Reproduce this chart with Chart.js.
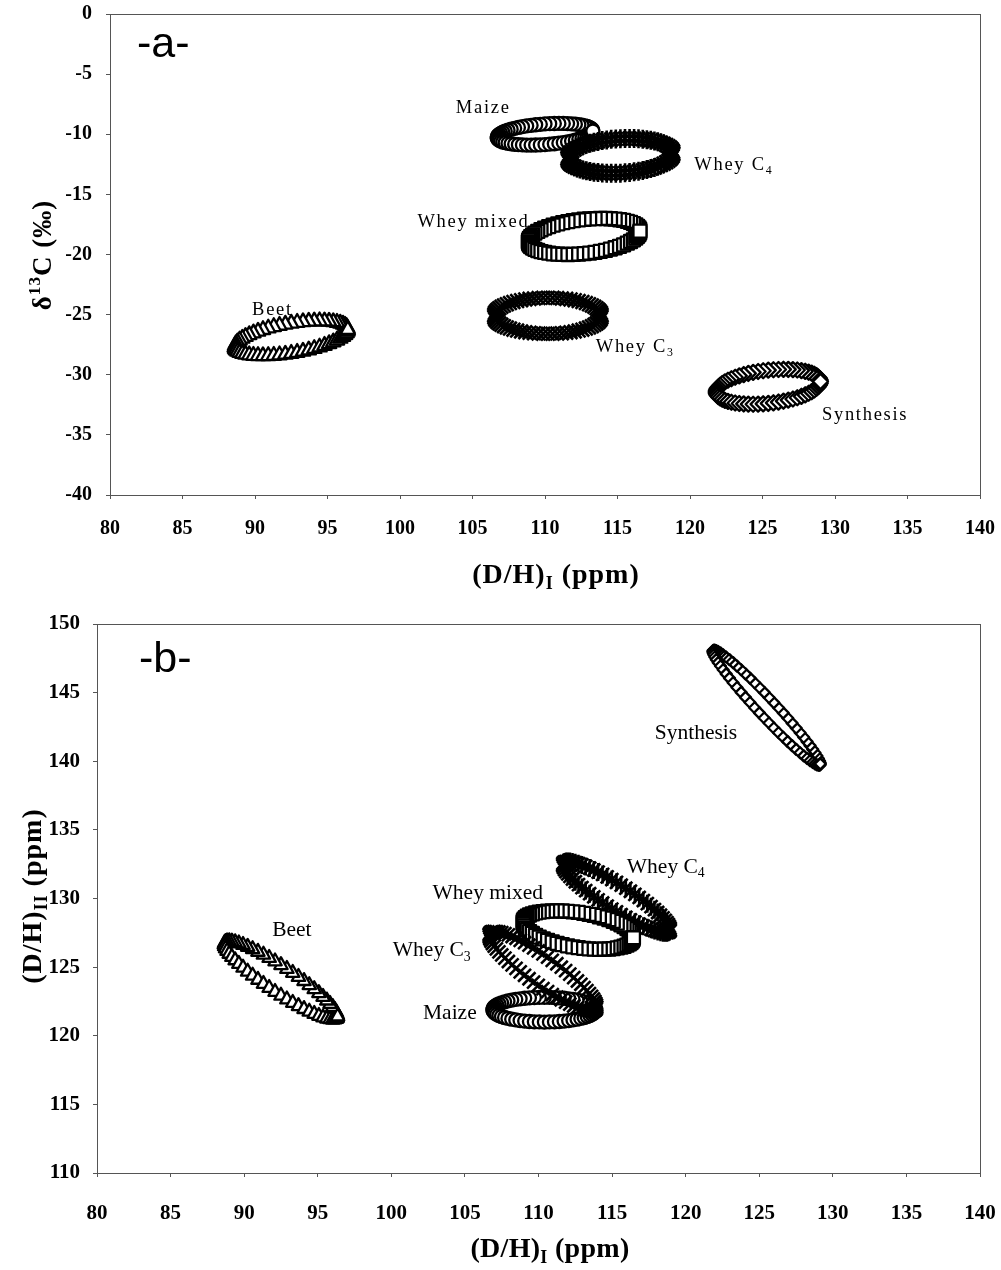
<!DOCTYPE html>
<html>
<head>
<meta charset="utf-8">
<script src="https://cdn.jsdelivr.net/npm/chart.js@4.4.1/dist/chart.umd.min.js"></script>
<style>
  body { margin: 0; background: #fff; }
  canvas { display: block; }
</style>
</head>
<body>
<canvas id="chartA" width="1001" height="610"></canvas>
<canvas id="chartB" width="1001" height="660"></canvas>
<script>
// groups, same order in both panels
const groups = ["Maize", "Whey C4", "Whey mixed", "Beet", "Whey C3", "Synthesis"];

const xTicks = [80, 85, 90, 95, 100, 105, 110, 115, 120, 125, 130, 135, 140];
const yTicksA = [-40, -35, -30, -25, -20, -15, -10, -5, 0];
const yTicksB = [110, 115, 120, 125, 130, 135, 140, 145, 150];

// panel a : (D/H)I vs d13C, mean / spread / correlation of each ellipse
const dhIMeanA = [110.0, 115.2, 112.7, 92.5, 110.2, 125.4];
const d13CMeanA = [-10.0, -11.8, -18.5, -26.9, -25.1, -31.0];
const dhISdA = [3.3, 3.65, 3.85, 3.9, 3.7, 3.6];
const d13CSdA = [0.9, 1.45, 1.5, 1.45, 1.5, 1.45];
const corrA = [0.3, 0.15, 0.3, 0.5, 0.0, 0.3];

// panel b : (D/H)I vs (D/H)II
const dhIMeanB = [110.4, 115.3, 112.7, 92.5, 110.3, 125.5];
const dhIIMeanB = [121.9, 130.1, 127.7, 124.1, 124.7, 143.9];
const dhISdB = [3.5, 3.65, 3.75, 3.85, 3.65, 3.65];
const dhIISdB = [0.9, 2.6, 1.4, 2.85, 2.9, 4.2];
const corrB = [0.0, -0.91, -0.4, -0.92, -0.9, -0.975];

// label text and where it sits (data units, left edge / middle)
const labelsText = ["Maize", "Whey C_{4}", "Whey mixed", "Beet", "Whey C_{3}", "Synthesis"];
const labelPosA = [[103.85, -7.8], [120.3, -12.6], [101.2, -17.3], [89.8, -24.6], [113.5, -27.7], [129.1, -33.4]];
const labelPosB = [[102.15, 121.6], [116.0, 132.3], [102.8, 130.4], [91.9, 127.7], [100.1, 126.2], [117.9, 142.0]];

const markA = [
  { shape: "circle", r: 6.5, n: 64 },
  { shape: "star", r: 9.5, n: 72 },
  { shape: "square", r: 6.5, n: 64 },
  { shape: "triangle", r: 7.5, n: 60 },
  { shape: "cross", r: 9.5, n: 72 },
  { shape: "diamond", r: 7.5, n: 64 },
];
const markB = [
  { shape: "circle", r: 6.5, n: 64 },
  { shape: "star", r: 9, n: 72 },
  { shape: "square", r: 6.5, n: 64 },
  { shape: "triangle", r: 7, n: 60 },
  { shape: "cross", r: 9, n: 72 },
  { shape: "diamond", r: 5.5, n: 70 },
];

const SERIF = "'Liberation Serif', 'Times New Roman', serif";
const SANS = "'Liberation Sans', Arial, sans-serif";

function drawMarker(ctx, shape, x, y, r) {
  ctx.beginPath();
  if (shape === "circle") {
    ctx.arc(x, y, r, 0, Math.PI * 2);
  } else if (shape === "square") {
    ctx.rect(x - r, y - r, r * 2, r * 2);
  } else if (shape === "triangle") {
    ctx.moveTo(x, y - r);
    ctx.lineTo(x + r * 0.95, y + r * 0.7);
    ctx.lineTo(x - r * 0.95, y + r * 0.7);
    ctx.closePath();
  } else if (shape === "diamond") {
    ctx.moveTo(x, y - r);
    ctx.lineTo(x + r, y);
    ctx.lineTo(x, y + r);
    ctx.lineTo(x - r, y);
    ctx.closePath();
  } else if (shape === "cross" || shape === "star") {
    const d = r * 0.72;
    ctx.moveTo(x - d, y - d);
    ctx.lineTo(x + d, y + d);
    ctx.moveTo(x + d, y - d);
    ctx.lineTo(x - d, y + d);
    if (shape === "star") {
      ctx.moveTo(x, y - r);
      ctx.lineTo(x, y + r);
    }
    ctx.lineWidth = 2.6;
    ctx.stroke();
    return;
  }
  ctx.lineWidth = 2.3;
  ctx.fill();
  ctx.stroke();
}

function parseRich(str) {
  const parts = [];
  const re = /([_^])\{([^}]*)\}/g;
  let last = 0, m;
  while ((m = re.exec(str))) {
    if (m.index > last) parts.push({ t: str.slice(last, m.index), k: 0 });
    parts.push({ t: m[2], k: m[1] === "_" ? 1 : -1 });
    last = re.lastIndex;
  }
  if (last < str.length) parts.push({ t: str.slice(last), k: 0 });
  return parts;
}

function drawRich(ctx, str, x, y, size, weight, family, align, spacing) {
  const parts = parseRich(str);
  ctx.letterSpacing = (spacing || 0) + "px";
  ctx.textBaseline = "middle";
  ctx.textAlign = "left";
  let total = 0;
  parts.forEach((p) => {
    const s = p.k ? size * 0.64 : size;
    ctx.font = weight + " " + s + "px " + family;
    p.s = s;
    p.w = ctx.measureText(p.t).width;
    total += p.w;
  });
  let cx = align === "center" ? x - total / 2 : x;
  parts.forEach((p) => {
    ctx.font = weight + " " + p.s + "px " + family;
    ctx.fillText(p.t, cx, y + p.k * size * 0.3);
    cx += p.w;
  });
  ctx.letterSpacing = "0px";
}

// confidence ellipses drawn as a ring of markers, last one on top at the right end
const ellipsePlugin = {
  id: "ellipses",
  afterDatasetsDraw(chart) {
    const ctx = chart.ctx;
    const xs = chart.scales.x, ys = chart.scales.y;
    const a = chart.chartArea;
    ctx.save();
    ctx.beginPath();
    ctx.rect(a.left, a.top, a.right - a.left, a.bottom - a.top);
    ctx.clip();
    ctx.strokeStyle = "#000";
    ctx.fillStyle = "#fff";
    ctx.lineJoin = "round";
    chart.data.datasets.forEach((ds) => {
      const e = ds.ellipse, mk = ds.mark;
      const q = Math.sqrt(1 - e.rho * e.rho);
      for (let i = 1; i <= mk.n; i++) {
        const t = (2 * Math.PI * i) / mk.n;
        const vx = e.mx + e.sx * Math.cos(t);
        const vy = e.my + e.sy * (e.rho * Math.cos(t) + q * Math.sin(t));
        drawMarker(ctx, mk.shape, xs.getPixelForValue(vx), ys.getPixelForValue(vy), mk.r);
      }
    });
    ctx.restore();
  },
};

const framePlugin = {
  id: "frame",
  afterDraw(chart) {
    const ctx = chart.ctx, a = chart.chartArea;
    ctx.save();
    ctx.strokeStyle = "#555";
    ctx.lineWidth = 1;
    ctx.strokeRect(a.left + 0.5, a.top + 0.5, a.right - a.left, a.bottom - a.top);
    ctx.restore();
  },
};

const textPlugin = {
  id: "panelText",
  afterDraw(chart, args, o) {
    const ctx = chart.ctx;
    const xs = chart.scales.x, ys = chart.scales.y;
    ctx.save();
    ctx.fillStyle = "#000";
    drawRich(ctx, o.letter, o.letterX, o.letterY, 43, "normal", SANS, "left", 0);
    o.labels.forEach((txt, i) => {
      const p = o.pos[i];
      drawRich(ctx, txt, xs.getPixelForValue(p[0]), ys.getPixelForValue(p[1]), o.labelSize, "normal", SERIF, "left", o.spacing);
    });
    drawRich(ctx, o.xTitle, o.xTitleX, o.xTitleY, 28, "bold", SERIF, "center", o.xTitleSpacing);
    ctx.translate(o.yTitleX, o.yTitleY);
    ctx.rotate(-Math.PI / 2);
    drawRich(ctx, o.yTitle, 0, 0, o.yTitleSize, "bold", SERIF, "center", 1);
    ctx.restore();
  },
};

function makeDatasets(mx, my, sx, sy, rho, marks) {
  return groups.map((g, i) => ({
    label: g,
    data: [{ x: mx[i], y: my[i] }],
    pointRadius: 0,
    ellipse: { mx: mx[i], my: my[i], sx: sx[i], sy: sy[i], rho: rho[i] },
    mark: marks[i],
  }));
}

function makeChart(id, cfg) {
  const tickFont = { family: SERIF, size: cfg.tickSize, weight: "bold" };
  return new Chart(document.getElementById(id), {
    type: "scatter",
    data: { datasets: cfg.datasets },
    options: {
      responsive: false,
      animation: false,
      layout: { padding: { top: 14, right: 21, left: 0, bottom: 0 } },
      plugins: {
        legend: { display: false },
        tooltip: { enabled: false },
        panelText: cfg.text,
      },
      scales: {
        x: {
          type: "linear",
          min: xTicks[0],
          max: xTicks[xTicks.length - 1],
          afterBuildTicks: (s) => { s.ticks = xTicks.map((v) => ({ value: v })); },
          ticks: { font: tickFont, color: "#000", padding: cfg.xPad, maxRotation: 0, autoSkip: false },
          grid: { drawOnChartArea: false, drawTicks: true, tickLength: 4, color: "#555" },
          border: { display: false },
          afterFit: (s) => {
            s.height = cfg.xHeight;
            s.paddingLeft = 0;
            s.paddingRight = 0;
          },
        },
        y: {
          type: "linear",
          min: cfg.yTicks[0],
          max: cfg.yTicks[cfg.yTicks.length - 1],
          afterBuildTicks: (s) => { s.ticks = cfg.yTicks.map((v) => ({ value: v })); },
          ticks: { font: tickFont, color: "#000", padding: cfg.yPad, autoSkip: false },
          grid: { drawOnChartArea: false, drawTicks: true, tickLength: 4, color: "#555" },
          border: { display: false },
          afterFit: (s) => {
            s.width = cfg.yWidth;
            s.paddingTop = 0;
            s.paddingBottom = 0;
          },
        },
      },
    },
    plugins: [framePlugin, ellipsePlugin, textPlugin],
  });
}

makeChart("chartA", {
  datasets: makeDatasets(dhIMeanA, d13CMeanA, dhISdA, d13CSdA, corrA, markA),
  yTicks: yTicksA,
  tickSize: 20,
  xPad: 18,
  yPad: 14,
  xHeight: 115,
  yWidth: 110,
  text: {
    letter: "-a-", letterX: 137, letterY: 45,
    labels: labelsText, pos: labelPosA, labelSize: 18.5, spacing: 1.7,
    xTitle: "(D/H)_{I} (ppm)", xTitleX: 556, xTitleY: 576, xTitleSpacing: 1,
    yTitle: "\u03b4^{13}C (\u2030)", yTitleX: 44, yTitleY: 255, yTitleSize: 27,
  },
});

makeChart("chartB", {
  datasets: makeDatasets(dhIMeanB, dhIIMeanB, dhISdB, dhIISdB, corrB, markB),
  yTicks: yTicksB,
  tickSize: 21,
  xPad: 24,
  yPad: 13,
  xHeight: 97,
  yWidth: 97,
  text: {
    letter: "-b-", letterX: 139, letterY: 50,
    labels: labelsText, pos: labelPosB, labelSize: 21.5, spacing: 0,
    xTitle: "(D/H)_{I} (ppm)", xTitleX: 550, xTitleY: 640, xTitleSpacing: 0.3,
    yTitle: "(D/H)_{II} (ppm)", yTitleX: 34, yTitleY: 286, yTitleSize: 28,
  },
});
</script>
</body>
</html>
